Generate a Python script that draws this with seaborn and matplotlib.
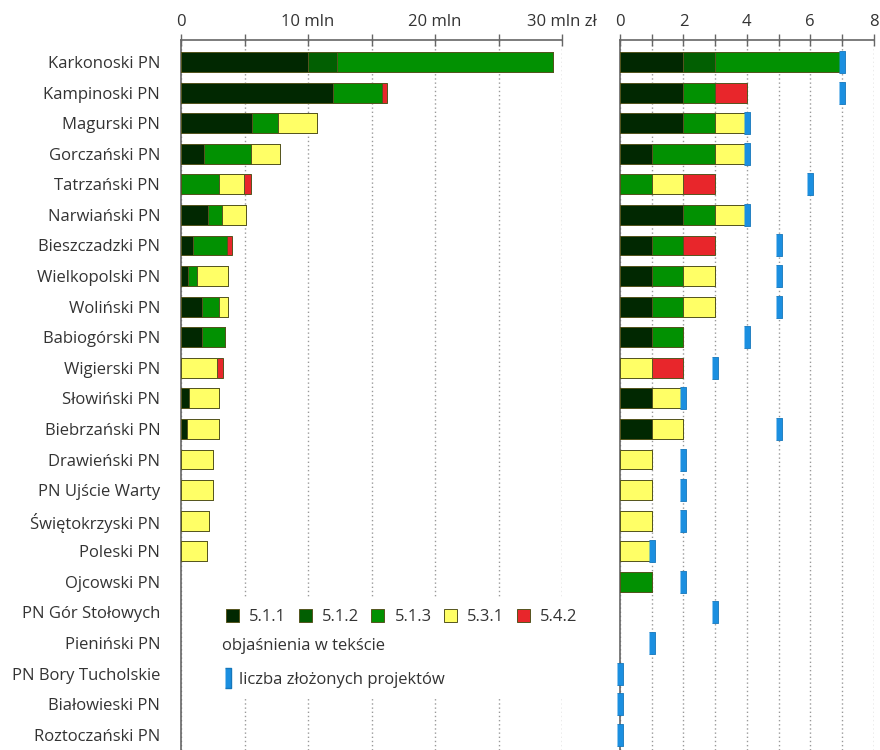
import numpy as np
import pandas as pd
import matplotlib
matplotlib.use("Agg")
import matplotlib.pyplot as plt
from matplotlib.patches import Patch, Rectangle
from matplotlib.lines import Line2D
import seaborn as sns

# =======================
# Dane
# =======================
parki = ["Karkonoski PN", "Kampinoski PN", "Magurski PN", "Gorczański PN", "Tatrzański PN",
         "Narwiański PN", "Bieszczadzki PN", "Wielkopolski PN", "Woliński PN", "Babiogórski PN",
         "Wigierski PN", "Słowiński PN", "Biebrzański PN", "Drawieński PN", "PN Ujście Warty",
         "Świętokrzyski PN", "Poleski PN", "Ojcowski PN", "PN Gór Stołowych", "Pieniński PN",
         "PN Bory Tucholskie", "Białowieski PN", "Roztoczański PN"]
kategorie = ["5.1.1", "5.1.2", "5.1.3", "5.3.1", "5.4.2"]

# kwoty w mln zł
kw_511 = [10.0, 12.0, 5.6, 1.8, 0, 2.1, 0.92, 0.58, 1.68, 1.68, 0, 0.63, 0.45, 0, 0, 0, 0, 0, 0, 0, 0, 0, 0]
kw_512 = [2.25, 0, 0, 0, 0, 0, 0, 0, 0, 0, 0, 0, 0, 0, 0, 0, 0, 0, 0, 0, 0, 0, 0]
kw_513 = [17.05, 3.8, 2.0, 3.75, 3.0, 1.1, 2.73, 0.65, 1.32, 1.77, 0, 0, 0, 0, 0, 0, 0, 0, 0, 0, 0, 0, 0]
kw_531 = [0, 0, 3.1, 2.25, 1.95, 1.9, 0, 2.49, 0.72, 0, 2.86, 2.36, 2.54, 2.5, 2.5, 2.2, 2.07, 0, 0, 0, 0, 0, 0]
kw_542 = [0, 0.4, 0, 0, 0.6, 0, 0.35, 0, 0, 0, 0.42, 0, 0, 0, 0, 0, 0, 0, 0, 0, 0, 0, 0]

# liczba projektów wg kategorii
n_511 = [2, 2, 2, 1, 0, 2, 1, 1, 1, 1, 0, 1, 1, 0, 0, 0, 0, 0, 0, 0, 0, 0, 0]
n_512 = [1, 0, 0, 0, 0, 0, 0, 0, 0, 0, 0, 0, 0, 0, 0, 0, 0, 0, 0, 0, 0, 0, 0]
n_513 = [4, 1, 1, 2, 1, 1, 1, 1, 1, 1, 0, 0, 0, 0, 0, 0, 0, 1, 0, 0, 0, 0, 0]
n_531 = [0, 0, 1, 1, 1, 1, 0, 1, 1, 0, 1, 1, 1, 1, 1, 1, 1, 0, 0, 0, 0, 0, 0]
n_542 = [0, 1, 0, 0, 1, 0, 1, 0, 0, 0, 1, 0, 0, 0, 0, 0, 0, 0, 0, 0, 0, 0, 0]

# liczba złożonych projektów
zlozone = [7, 7, 4, 4, 6, 4, 5, 5, 5, 4, 3, 2, 5, 2, 2, 2, 1, 2, 3, 1, 0, 0, 0]

kolory = {"5.1.1": "#012801", "5.1.2": "#025f02", "5.1.3": "#029102",
          "5.3.1": "#ffff66", "5.4.2": "#e8262b"}
niebieski = "#1b8fe0"

df_kw = pd.DataFrame({"park": parki, "5.1.1": kw_511, "5.1.2": kw_512, "5.1.3": kw_513,
                      "5.3.1": kw_531, "5.4.2": kw_542})
df_n = pd.DataFrame({"park": parki, "5.1.1": n_511, "5.1.2": n_512, "5.1.3": n_513,
                     "5.3.1": n_531, "5.4.2": n_542})
df_z = pd.DataFrame({"park": parki, "zlozone": zlozone})

# =======================
# Wykres
# =======================
sns.set_theme(style="white")
plt.rcParams["font.family"] = ["Open Sans", "DejaVu Sans"]
tekst = "#333333"
fs = 12

W, H = 880, 750
fig = plt.figure(figsize=(8.8, 7.5), dpi=100)
top_px, bottom_px = 40, 750
ax1 = fig.add_axes([181 / W, 0, (562 - 181) / W, (bottom_px - top_px) / H])
ax2 = fig.add_axes([620 / W, 0, (873.6 - 620) / W, (bottom_px - top_px) / H])


def stos(ax, df):
    # kumulatywne sumy rysowane od najdłuższej, puste wiersze pomijane
    cum = df[kategorie].cumsum(axis=1).replace(0, np.nan)
    for kat in reversed(kategorie):
        tmp = pd.DataFrame({"park": df["park"], "w": cum[kat]})
        sns.barplot(data=tmp, x="w", y="park", order=parki, orient="h", color=kolory[kat],
                    saturation=1, width=0.65, edgecolor="#55551f", linewidth=0.7,
                    errorbar=None, ax=ax, zorder=3)


stos(ax1, df_kw)
stos(ax2, df_n)

verts = [(-0.16, -0.5), (0.16, -0.5), (0.16, 0.5), (-0.16, 0.5)]
sns.scatterplot(data=df_z, x="zlozone", y="park", ax=ax2, marker=verts, s=230,
                color=niebieski, edgecolor="#1577bb", linewidth=0.6, zorder=5, clip_on=False)

for ax, xmax in [(ax1, 30), (ax2, 8)]:
    ax.set_ylim(len(parki) - 1 + 0.42, -0.72)
    ax.set_xlim(0, xmax)
    ax.set_xlabel("")
    ax.set_ylabel("")
    ax.xaxis.tick_top()
    ax.spines["right"].set_visible(False)
    ax.spines["bottom"].set_visible(False)
    for s in ["top", "left"]:
        ax.spines[s].set_color("#666666")
        ax.spines[s].set_linewidth(1.2)
    ax.set_yticks(np.arange(len(parki)) + 0.5, minor=True)
    ax.tick_params(axis="y", which="major", length=0)
    ax.tick_params(axis="y", which="minor", length=3, color="#666666", direction="out")
    ax.tick_params(axis="x", which="both", direction="inout", length=8, width=1,
                   color="#666666", labelsize=fs, labelcolor=tekst, pad=3)

ax1.set_xticks([0, 10, 20, 30])
ax1.set_xticklabels(["0", "10 mln", "20 mln", "30 mln zł"])
ax1.set_xticks([5, 15, 25], minor=True)
ax1.set_yticks(range(len(parki)))
ax1.set_yticklabels(parki)
ax1.tick_params(axis="y", which="major", labelsize=fs, labelcolor=tekst, pad=15)
ax1.grid(axis="x", which="both", linestyle=(0, (1, 2)), color="#999999", linewidth=1)
ax1.grid(axis="y", visible=False)

ax2.set_xticks(range(0, 9))
ax2.set_xticklabels(["0", "", "2", "", "4", "", "6", "", "8"])
ax2.set_yticklabels([])
ax2.grid(axis="x", which="major", linestyle=(0, (1, 2)), color="#999999", linewidth=1)
ax2.grid(axis="y", visible=False)

# =======================
# Legenda
# =======================
tlo = Rectangle((218 / W, 1 - 698 / H), (592 - 218) / W, (698 - 597) / H,
                transform=fig.transFigure, facecolor="white", edgecolor="none", zorder=1)
fig.patches.append(tlo)

uchwyty = [Patch(facecolor=kolory[k], edgecolor="#55551f", linewidth=0.7, label=k) for k in kategorie]
leg1 = fig.legend(handles=uchwyty, ncol=5, loc="center left", bbox_to_anchor=(218 / W, 1 - 617 / H),
                  frameon=False, borderpad=0, handlelength=0.78, handleheight=0.78,
                  handletextpad=0.6, columnspacing=0.75, fontsize=fs, labelcolor=tekst)
leg1.set_zorder(5)
fig.text(222 / W, 1 - 646 / H, "objaśnienia w tekście", fontsize=fs, color=tekst,
         va="center", ha="left", zorder=5)
leg2 = fig.legend(handles=[Line2D([], [], linestyle="", marker=verts, markersize=14,
                                  color=niebieski, markeredgecolor="#1577bb")],
                  labels=["liczba złożonych projektów"], loc="center left",
                  bbox_to_anchor=(216 / W, 1 - 680 / H), frameon=False, borderpad=0,
                  handlelength=0.45, handletextpad=0.45, fontsize=fs, labelcolor=tekst)
leg2.set_zorder(5)

fig.savefig("out.png", dpi=100)
